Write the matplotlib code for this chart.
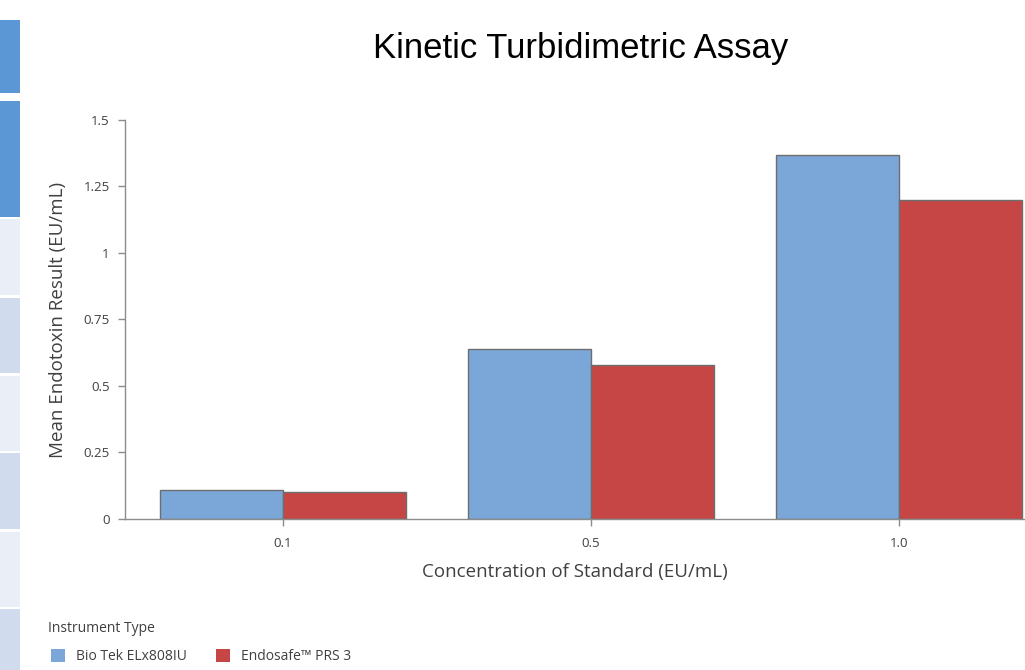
"""
grouped bar chart - kinetic turbidimetric assay
"""

import matplotlib
matplotlib.use('Agg')
import matplotlib.pyplot as plt
import matplotlib.patches as mpatches
import numpy as np

# data
concentrations = ['0.1', '0.5', '1.0']
biotek = [0.11, 0.64, 1.37]
endosafe = [0.10, 0.58, 1.20]
series_names = ['Bio Tek ELx808IU', 'Endosafe\u2122 PRS 3']
y_ticks = [0, 0.25, 0.5, 0.75, 1, 1.25, 1.5]
y_tick_labels = ['0', '0.25', '0.5', '0.75', '1', '1.25', '1.5']

blue = '#7ba7d8'
red = '#c64545'
edge = '#6e6e6e'
txt = '#404040'

plt.rcParams['font.family'] = ['Open Sans', 'DejaVu Sans']

fig = plt.figure(figsize=(10.25, 6.7), dpi=100)
ax = fig.add_axes([0.122, 0.2254, 0.878, 0.5955])

x = np.arange(len(concentrations))
w = 0.4
ax.bar(x - w / 2, biotek, w, color=blue, edgecolor=edge, linewidth=1.0, label=series_names[0])
ax.bar(x + w / 2, endosafe, w, color=red, edgecolor=edge, linewidth=1.0, label=series_names[1])

ax.set_xlim(-0.512, 2.41)
ax.set_ylim(0, 1.5)
ax.set_xticks(x)
ax.set_xticklabels(concentrations)
ax.set_yticks(y_ticks)
ax.set_yticklabels(y_tick_labels)

for s in ['top', 'right']:
    ax.spines[s].set_visible(False)
for s in ['left', 'bottom']:
    ax.spines[s].set_color('#8c8c8c')
    ax.spines[s].set_linewidth(1.0)
ax.tick_params(axis='both', colors='#8c8c8c', length=5, width=1.0, labelsize=9.5, labelcolor=txt)
ax.tick_params(axis='x', pad=8)
ax.tick_params(axis='y', pad=6)

ax.set_xlabel('Concentration of Standard (EU/mL)', fontsize=13.5, color=txt, labelpad=9)
ax.set_ylabel('Mean Endotoxin Result (EU/mL)', fontsize=13.5, color=txt, labelpad=12)

fig.text(0.566, 0.928, 'Kinetic Turbidimetric Assay', ha='center', va='center', fontsize=25,
         color='black', family=['Liberation Sans Narrow', 'Liberation Sans', 'DejaVu Sans'])

# legend
fig.text(0.047, 0.062, 'Instrument Type', fontsize=10, color=txt, ha='left', va='center')
handles = [mpatches.Patch(facecolor=blue, edgecolor='none'), mpatches.Patch(facecolor=red, edgecolor='none')]
leg = fig.legend(handles, series_names, loc='lower left', bbox_to_anchor=(0.038, -0.01), ncol=2,
                 frameon=False, fontsize=10, handlelength=1.0, handleheight=1.0,
                 columnspacing=2.1, handletextpad=0.8)
for t in leg.get_texts():
    t.set_color(txt)

# cropped sidebar panels from the screenshot
side = [(20, 93, '#5b97d4'), (101, 217, '#5b97d4'), (219, 295, '#e9eef7'), (298, 373, '#d0dcee'),
        (376, 451, '#e9eef7'), (453, 529, '#d0dcee'), (532, 607, '#e9eef7'), (609, 670, '#d0dcee')]
for top, bot, c in side:
    fig.patches.append(mpatches.Rectangle((0, 1 - bot / 670), 20 / 1025, (bot - top) / 670,
                                          transform=fig.transFigure, facecolor=c, edgecolor='none'))

fig.savefig('out.png', dpi=100)
